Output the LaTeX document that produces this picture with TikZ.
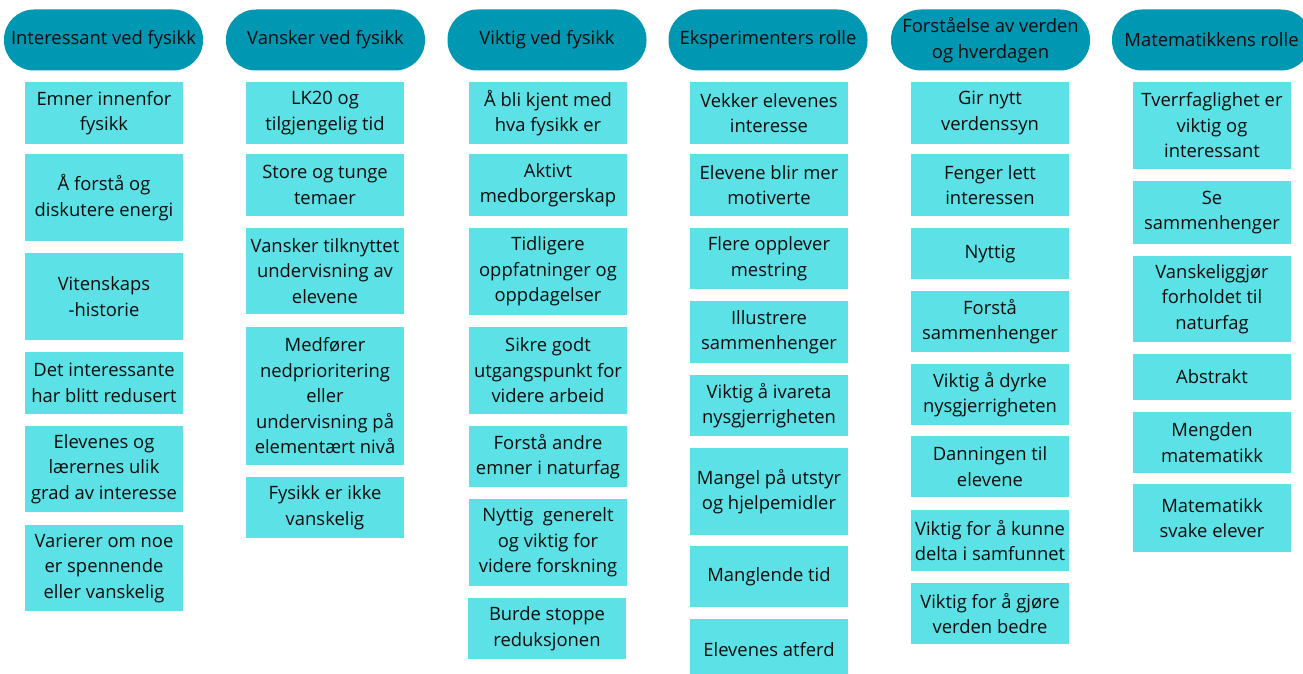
\documentclass[tikz,border=0pt]{standalone}
\usepackage{fontspec}
\setmainfont{Open Sans}
\definecolor{headcolor}{RGB}{0, 151, 178}
\definecolor{boxcolor}{RGB}{92, 225, 230}
\definecolor{inkcolor}{RGB}{12, 12, 12}
\tikzstyle{head} = [rectangle, rounded corners=30pt,
                    minimum width=199pt, minimum height=61pt,
                    align=center, fill=headcolor, text=inkcolor,
                    inner sep=0pt, font=\fontsize{18.4}{25.5}\selectfont]
\tikzstyle{idea} = [rectangle, minimum width=158pt,
                    align=center, fill=boxcolor, text=inkcolor,
                    inner sep=0pt, font=\fontsize{18.4}{25.5}\selectfont]

\begin{document}
\begin{tikzpicture}[x=1pt, y=-1pt]
    \useasboundingbox (0,0) rectangle (1303,674);

    % Interessant ved fysikk
    \node (InteressantHead) [head] at (103.5,40) {Interessant ved fysikk};
    \node (Interessant1) [idea, minimum height=62pt] at (104,113) {Emner innenfor\\fysikk};
    \node (Interessant2) [idea, minimum height=87pt] at (104,197.5) {Å forstå og\\diskutere energi};
    \node (Interessant3) [idea, minimum height=87pt] at (104,296.5) {Vitenskaps\\-historie};
    \node (Interessant4) [idea, minimum height=62pt] at (104,383) {Det interessante\\har blitt redusert};
    \node (Interessant5) [idea, minimum height=86pt] at (104,469) {Elevenes og\\lærernes ulik\\grad av interesse};
    \node (Interessant6) [idea, minimum height=86pt] at (104,568) {Varierer om noe\\er spennende\\eller vanskelig};

    % Vansker ved fysikk
    \node (VanskerHead) [head] at (325.5,40) {Vansker ved fysikk};
    \node (Vansker1) [idea, minimum height=62pt] at (325,113) {LK20 og\\tilgjengelig tid};
    \node (Vansker2) [idea, minimum height=62pt] at (325,185) {Store og tunge\\temaer};
    \node (Vansker3) [idea, minimum height=86pt] at (325,271) {Vansker tilknyttet\\undervisning av\\elevene};
    \node (Vansker4) [idea, minimum height=138pt] at (325,396) {Medfører\\nedprioritering\\eller\\undervisning på\\elementært nivå};
    \node (Vansker5) [idea, minimum height=61pt] at (325,507.5) {Fysikk er ikke\\vanskelig};

    % Viktig ved fysikk
    \node (ViktigHead) [head] at (547,40) {Viktig ved fysikk};
    \node (Viktig1) [idea, minimum height=62pt] at (548,113) {Å bli kjent med\\hva fysikk er};
    \node (Viktig2) [idea, minimum height=62pt] at (548,185) {Aktivt\\medborgerskap};
    \node (Viktig3) [idea, minimum height=87pt] at (548,271.5) {Tidligere\\oppfatninger og\\oppdagelser};
    \node (Viktig4) [idea, minimum height=87pt] at (548,370.5) {Sikre godt\\utgangspunkt for\\videre arbeid};
    \node (Viktig5) [idea, minimum height=61pt] at (548,456.5) {Forstå andre\\emner i naturfag};
    \node (Viktig6) [idea, minimum height=87pt] at (548,542.5) {Nyttig\ \ generelt\\og viktig for\\videre forskning};
    \node (Viktig7) [idea, minimum height=61pt] at (547,628.5) {Burde stoppe\\reduksjonen};

    % Eksperimenters rolle
    \node (EksperimentHead) [head] at (768,40) {Eksperimenters rolle};
    \node (Eksperiment1) [idea, minimum height=62pt] at (769,113) {Vekker elevenes\\interesse};
    \node (Eksperiment2) [idea, minimum height=62pt] at (769,185) {Elevene blir mer\\motiverte};
    \node (Eksperiment3) [idea, minimum height=61pt] at (769,258.5) {Flere opplever\\mestring};
    \node (Eksperiment4) [idea, minimum height=62pt] at (769,332) {Illustrere\\sammenhenger};
    \node (Eksperiment5) [idea, minimum height=61pt] at (769,405.5) {Viktig å ivareta\\nysgjerrigheten};
    \node (Eksperiment6) [idea, minimum height=87pt] at (769,491.5) {Mangel på utstyr\\og hjelpemidler};
    \node (Eksperiment7) [idea, minimum height=61pt] at (769,576.5) {Manglende tid};
    \node (Eksperiment8) [idea, minimum height=62pt] at (769,650) {Elevenes atferd};

    % Forståelse av verden og hverdagen
    \node (ForstaaelseHead) [head] at (990.5,40) {Forståelse av verden\\og hverdagen};
    \node (Forstaaelse1) [idea, minimum height=62pt] at (990,113) {Gir nytt\\verdenssyn};
    \node (Forstaaelse2) [idea, minimum height=62pt] at (990,185) {Fenger lett\\interessen};
    \node (Forstaaelse3) [idea, minimum height=51pt] at (990,253.5) {Nyttig};
    \node (Forstaaelse4) [idea, minimum height=61pt] at (990,321.5) {Forstå\\sammenhenger};
    \node (Forstaaelse5) [idea, minimum height=61pt] at (990,394.5) {Viktig å dyrke\\nysgjerrigheten};
    \node (Forstaaelse6) [idea, minimum height=61pt] at (990,466.5) {Danningen til\\elevene};
    \node (Forstaaelse7) [idea, minimum height=61pt] at (990,540.5) {Viktig for å kunne\\delta i samfunnet};
    \node (Forstaaelse8) [idea, minimum height=61pt] at (990,613.5) {Viktig for å gjøre\\verden bedre};

    % Matematikkens rolle
    \node (MatematikkHead) [head] at (1211.5,40) {Matematikkens rolle};
    \node (Matematikk1) [idea, minimum height=87pt] at (1212,125.5) {Tverrfaglighet er\\viktig og\\interessant};
    \node (Matematikk2) [idea, minimum height=63pt] at (1212,212.5) {Se\\sammenhenger};
    \node (Matematikk3) [idea, minimum height=86pt] at (1212,299) {Vanskeliggjør\\forholdet til\\naturfag};
    \node (Matematikk4) [idea, minimum height=46pt] at (1212,377) {Abstrakt};
    \node (Matematikk5) [idea, minimum height=61pt] at (1212,442.5) {Mengden\\matematikk};
    \node (Matematikk6) [idea, minimum height=68pt] at (1212,518) {Matematikk\\svake elever};

\end{tikzpicture}
\end{document}
